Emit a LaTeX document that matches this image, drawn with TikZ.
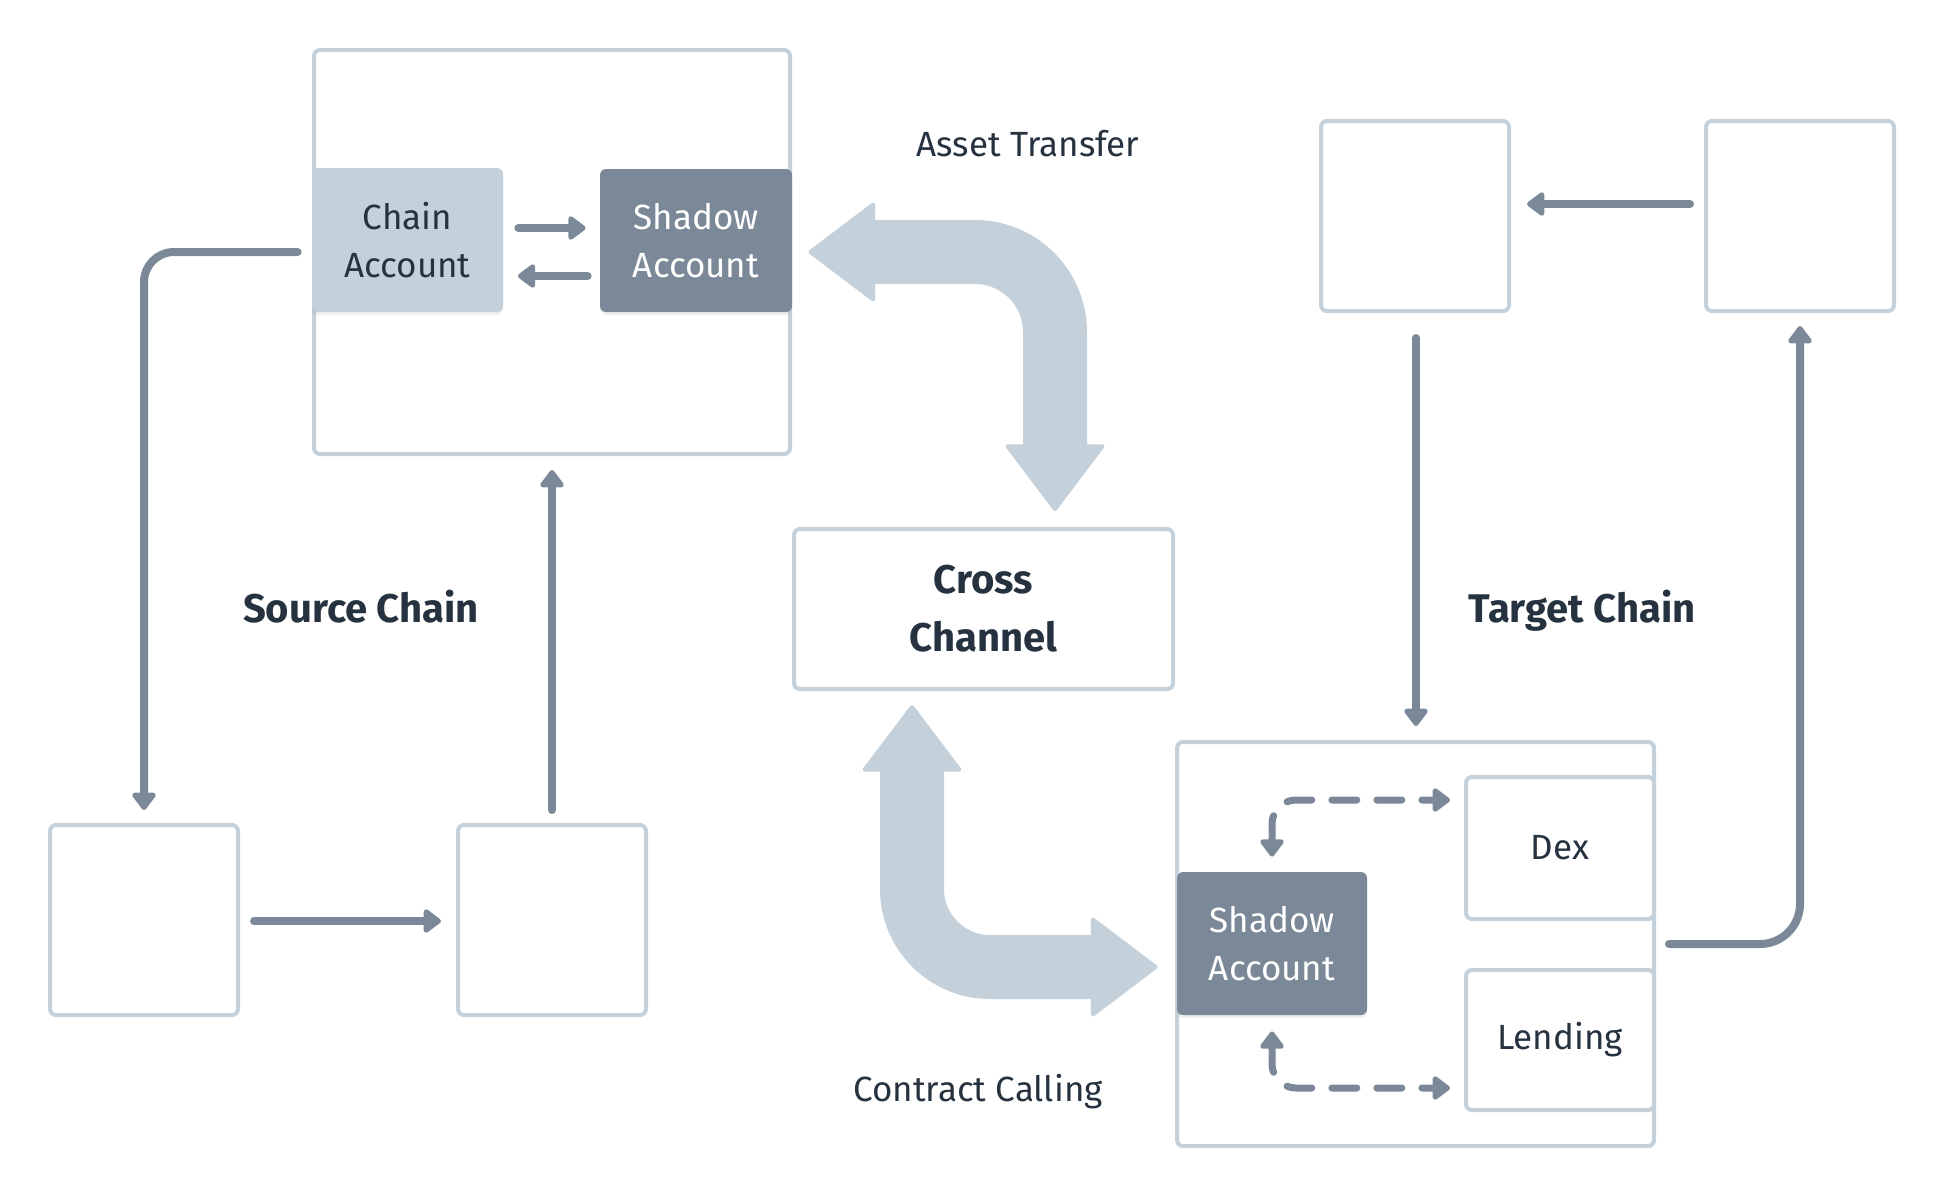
\documentclass[tikz,border=0pt]{standalone}
\usepackage{fontspec}
\setmainfont{Fira Sans}
\usetikzlibrary{arrows.meta,calc,shadows}
\definecolor{lightc}{HTML}{C4D0DA}
\definecolor{darkc}{HTML}{7A8897}
\definecolor{textc}{HTML}{26323F}
\newcommand\regfont{\fontsize{17.5pt}{24pt}\selectfont}
\newcommand\boldfontA{\fontsize{20pt}{29pt}\selectfont\bfseries}
\tikzset{
  smalltip/.tip={Triangle[length=9.5pt,width=13.5pt,round]},
  bigtip/.tip={Triangle[length=34pt,width=51pt,line width=2pt,round]},
  box/.style={draw=lightc, line width=2pt, rounded corners=3pt, fill=white, inner sep=0pt,
    text=textc, font=\regfont, align=center},
  lightfill/.style={fill=lightc, rounded corners=3pt, inner sep=0pt, text=textc, font=\regfont,
    align=center, drop shadow={opacity=0.12, shadow xshift=0pt, shadow yshift=-1.5pt}},
  darkfill/.style={fill=darkc, rounded corners=3pt, inner sep=0pt, text=white, font=\regfont,
    align=center, drop shadow={opacity=0.12, shadow xshift=0pt, shadow yshift=-1.5pt}},
  arr/.style={draw=darkc, line width=4pt, line cap=round, -smalltip},
  dsh/.style={draw=darkc, line width=3.5pt, line cap=round, smalltip-smalltip,
    dash pattern=on 12.5pt off 10pt, rounded corners=12pt},
  bigarr/.style={draw=lightc, line width=32pt, bigtip-bigtip},
  lbl/.style={text=textc, font=\regfont, inner sep=0pt},
  lblb/.style={text=textc, font=\boldfontA, inner sep=0pt}
}
\begin{document}
\begin{tikzpicture}[x=0.5pt,y=-0.5pt]
\useasboundingbox (0,0) rectangle (1944,1196);
% source chain
\node[box, minimum width=238pt, minimum height=202pt] (src) at (552,252) {};
\node[lightfill, minimum width=95.5pt, minimum height=72pt] (chainacc) at (407.5,240) {Chain\\Account};
\node[darkfill, minimum width=96pt, minimum height=71.5pt] (shadowA) at (696,240.5) {Shadow\\Account};
\node[box, minimum width=94pt, minimum height=95pt] (sC) at (144,920) {};
\node[box, minimum width=94pt, minimum height=95pt] (sD) at (552,920) {};
% cross channel
\node[box, font=\boldfontA, minimum width=189.5pt, minimum height=80pt] (cross) at (983.5,609) {\raisebox{-2pt}{Cross}\\\raisebox{-2pt}{Channel}};
% target chain
\node[box, minimum width=94pt, minimum height=95pt] (tA) at (1415,216) {};
\node[box, minimum width=94pt, minimum height=95pt] (tB) at (1800,216) {};
\node[box, minimum width=238.5pt, minimum height=202pt] (tgt) at (1415.5,944) {};
\node[box, minimum width=94pt, minimum height=71pt] (dex) at (1560,848) {Dex};
\node[box, minimum width=94pt, minimum height=70pt] (lend) at (1560,1040) {Lending};
\node[darkfill, minimum width=95pt, minimum height=71.5pt] (shadowB) at (1272,943.5) {Shadow\\Account};
% labels
\node[lbl, anchor=base] (lblAT) at (1028,156) {Asset Transfer};
\node[lbl, anchor=base] (lblCC) at (978,1101) {Contract Calling};
\node[lblb, anchor=base] (lblSC) at (361,622) {Source Chain};
\node[lblb, anchor=base] (lblTC) at (1582,622) {Target Chain};
% big arrows
\draw[bigarr, rounded corners=40pt] ($(shadowA.east)+(16,11.5)$) -| ($(cross.north)+(71.5,-16)$);
\draw[bigarr, rounded corners=39pt] ($(cross.south)+(-71.5,14)$) |- ($(shadowB.west)+(-19,23.5)$);
% source arrows
\draw[arr] ($(chainacc.east)+(15,-12)$) -- ($(shadowA.west)+(-14,-12.5)$);
\draw[arr] ($(shadowA.west)+(-12,35.5)$) -- ($(chainacc.east)+(14.5,36)$);
\draw[arr, rounded corners=15pt] ($(chainacc.west)+(-14,12)$) -| ($(sC.north)+(0,-13)$);
\draw[arr] ($(sC.east)+(14,1)$) -- ($(sD.west)+(-15,1)$);
\draw[arr] ($(sD.north)+(0,-13)$) -- ($(src.south)+(0,14)$);
% target arrows
\draw[arr] ($(tB.west)+(-14,-12)$) -- ($(tA.east)+(16,-12)$);
\draw[arr] ($(tA.south)+(1,25)$) -- ($(tgt.north)+(0.5,-14)$);
\draw[arr, rounded corners=20pt] ($(tgt.east)+(13,0)$) -| ($(tB.south)+(0,13)$);
% dashed
\draw[dsh] ($(shadowB.north)+(0,-15)$) |- ($(dex.west)+(-14,-48)$);
\draw[dsh] ($(shadowB.south)+(0,16)$) |- ($(lend.west)+(-14,48)$);
\end{tikzpicture}
\end{document}
